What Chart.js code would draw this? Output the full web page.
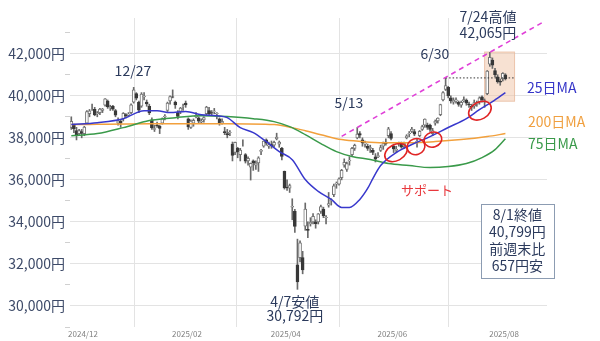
<!DOCTYPE html>
<html><head><meta charset="utf-8">
<script src="https://cdn.jsdelivr.net/npm/chart.js@4.4.1/dist/chart.umd.min.js"></script>
<style>html,body{margin:0;padding:0;background:#fff}#wrap{width:600px;height:341px;position:relative}</style>
</head><body><div id="wrap"><canvas id="c" width="600" height="341"></canvas></div>
<script>
// ---- data ----
const openP=[38500,38600,38350,38200,38300,
38200,38700,39150,39400,39350,39150,39200,39300,39550,39750,39450,39500,39300,38700,38800,38900,39100,39080,39200,39700,40100,
39700,39500,39950,39700,39500,38850,38400,38600,38550,38700,39000,39300,39750,39950,39700,39200,39250,39500,39650,
38900,38500,38700,39000,38950,38750,38850,39150,39300,39200,39250,39150,38900,38700,38300,38200,38250,37700,
37300,37500,37200,37700,37200,36900,36600,36900,36700,36800,37350,37600,37900,37600,37700,37650,37950,37700,37500,36400,
35650,35600,34700,34500,31960,32300,32300,33800,33650,33900,34000,34000,34000,34500,34600,34200,34800,35000,35300,35800,35800,
36100,36700,36500,36900,37200,37500,38000,38200,37900,37700,37600,37500,37400,37100,37100,37400,37600,37800,38100,38200,
37600,37400,37700,37700,37600,38000,38200,38300,38300,37800,38100,38400,38600,38600,38600,38200,38700,38800,39100,39800,40300,
40400,39900,39700,39750,39700,39550,39750,39800,39600,39500,39500,39600,39700,39950,39700,40100,41500,41700,41200,40900,40700,40800,
41000];
const highP=[39000,38650,38500,38400,38400,
38550,39300,39350,39600,39450,39250,39400,39400,39870,39800,39550,39550,39350,38950,38850,39200,39150,39200,39620,40400,40150,
39750,40150,40150,39800,39600,38950,38600,38750,38600,38950,39100,39700,40000,40280,39750,39300,39450,39600,39750,
38950,38850,38900,39200,39000,38900,39000,39500,39450,39300,39400,39200,38950,38900,38500,38400,38350,37800,
37800,37550,37500,37900,37250,37100,36800,36950,36900,37100,37450,37850,37950,37800,37850,37850,38220,37850,37550,36420,
36000,35800,35100,34600,33180,33100,32600,34900,34000,34200,34400,34100,34400,34800,34700,34300,35400,35100,35800,35900,36100,
36500,37000,36850,37100,37550,37700,38490,38300,38000,37850,37700,37650,37500,37250,37300,37650,37800,37950,38500,38300,
37700,37600,37800,37800,37800,38150,38300,38500,38400,37950,38350,38600,38900,38700,38650,38450,38850,38950,39600,40200,40850,
40450,40000,39900,39900,39750,39750,39950,39850,39700,39600,39800,39750,39950,40000,39850,41200,42065,41800,41300,41000,40800,41100,
41050];
const lowP=[38400,38250,37900,38100,38000,
38100,38650,39000,39300,39050,39000,39100,39200,39500,39400,39300,39300,39000,38600,38500,38800,38950,39000,39150,39650,39800,
39200,39450,39800,39500,39100,38400,38300,38500,38200,38650,38850,39250,39600,39900,39400,38900,39150,39300,39450,
38400,38450,38550,38950,38700,38700,38750,39100,39100,39050,39150,38900,38600,38650,38150,38000,38100,36900,
37200,37050,36900,37600,36800,36700,35990,36450,36500,36400,37200,37550,37650,37500,37500,37550,37900,37550,36950,35560,
35500,35400,34100,33500,30792,32100,31530,33600,33250,33800,33900,33700,33900,34400,34200,33900,34700,34800,35200,35600,35750,
36000,36600,36400,36700,37100,37400,37950,38000,37600,37550,37400,37300,37200,36850,37050,37350,37450,37650,38000,37900,
37300,37300,37600,37500,37500,37950,38050,38250,38100,37550,38050,38350,38500,38400,38300,38100,38600,38700,39050,39750,40250,
39900,39650,39600,39650,39500,39450,39700,39550,39450,39300,39400,39500,39600,39700,39450,40050,41400,41300,40900,40600,40500,40700,
40750];
const closeP=[38780,38440,38130,38350,38210,
38510,39250,39280,39400,39090,39160,39370,39370,39850,39470,39460,39360,39080,38810,38700,39160,39040,39130,39570,40280,39890,
39310,40080,39980,39610,39190,38470,38440,38570,38450,38900,39030,39650,39960,39930,39570,39020,39420,39510,39570,
38520,38800,38830,39070,38790,38800,38960,39460,39150,39170,39270,39160,38680,38780,38240,38140,38260,37160,
37790,37330,37420,37700,36890,37030,36790,36820,36790,37050,37400,37850,37750,37680,37610,37780,38030,37800,37120,35620,
35620,35730,34740,33780,31140,33010,31710,34610,33590,33980,34270,33920,34380,34730,34280,34220,34870,35040,35710,35840,36050,
36450,36830,36780,36930,37500,37640,38180,38130,37760,37750,37500,37530,37300,36990,37160,37530,37720,37720,38430,37970,
37470,37450,37750,37550,37740,38090,38210,38420,38170,37830,38310,38540,38890,38490,38400,38350,38790,38940,39580,40150,40490,
39990,39760,39790,39810,39590,39690,39820,39650,39570,39460,39680,39660,39900,39820,39770,41170,41830,41460,41000,40670,40650,41070,
40799];

// moving averages (read at sampled trading-day indices)
const ma25Idx=[0,10,20,28,33,38,44,50,56,60,65,70,75,80,85,90,95,100,104,107,111,114,116,119,125,131,138,145,152,157,162,167];
const ma25Val=[38630,38720,38910,39290,39290,39200,39250,39100,39050,38960,38485,38250,37820,37345,36960,36015,35450,35070,34690,34690,35070,35590,36060,36680,37300,37680,38060,38490,38910,39340,39720,40150];
const ma75Idx=[0,10,20,30,40,50,60,70,78,84,90,96,102,108,115,122,130,138,145,152,158,163,167];
const ma75Val=[38100,38200,38485,38820,38960,39055,39010,38910,38770,38530,38150,37725,37345,37110,36965,36775,36680,36585,36630,36775,37060,37440,37960];
const ma200Idx=[0,30,60,78,85,90,96,104,112,120,130,140,150,160,167];
const ma200Val=[38630,38675,38675,38630,38485,38340,38150,37915,37820,37770,37770,37820,37915,38060,38200];

// trend line (through 5/13 and 7/24 highs) and 6/30 high level
const trendIdx=[104,181];
const trendVal=[38070,43470];
const levelIdx=[144,170.5];
const levelVal=[40850,40850];

// axes
const xTickPos=[4.5,44.5,82.5,123.5,166.5];
const xTickLabels=['2024/12','2025/02','2025/04','2025/06','2025/08'];
const yMajor=[30000,32000,34000,36000,38000,40000,42000];
const yMinor=[29000,31000,33000,35000,37000,39000,41000,43000];

// annotations (data coordinates)
const texts=[
 {t:'12/27',i:23.7,v:41192,c:'#2b3a5c',a:'center'},
 {t:'5/13',i:106.8,v:39672,c:'#2b3a5c',a:'center'},
 {t:'6/30',i:139.9,v:42000,c:'#2b3a5c',a:'center'},
 {t:'7/24高値',i:160.3,v:43757,c:'#2b3a5c',a:'center'},
 {t:'42,065円',i:160.3,v:42997,c:'#2b3a5c',a:'center'},
 {t:'25日MA',i:175.3,v:40385,c:'#3535c8',a:'left'},
 {t:'200日MA',i:175.7,v:38770,c:'#f0a040',a:'left'},
 {t:'75日MA',i:175.7,v:37725,c:'#3a9a4a',a:'left'},
 {t:'サポート',i:136.8,v:35492,c:'#e8383d',a:'center',s:13},
 {t:'4/7安値',i:86.0,v:30220,c:'#2b3a5c',a:'center'},
 {t:'30,792円',i:86.0,v:29555,c:'#2b3a5c',a:'center'}
];
const ellipses=[
 {i:124.9,v:37297,rx:12,ry:8,rot:-0.5},
 {i:132.6,v:37582,rx:9,ry:8,rot:-0.3},
 {i:139.1,v:37915,rx:9,ry:7.5,rot:-0.3},
 {i:157.2,v:39292,rx:12,ry:8.5,rot:-0.5}
];
const shade={i0:158.8,i1:170.7,v0:39720,v1:42100};
const infoBox={i0:157.6,i1:185.7,v0:34828,v1:31312,ic:171.6,
  lines:['8/1終値','40,799円','前週末比','657円安'],lv:[34352,33545,32737,31930]};

const FONT="'Noto Sans CJK JP','Noto Sans',sans-serif";

const idx=closeP.map((_,i)=>i);
const toXY=(is,vs)=>is.map((x,k)=>({x:x,y:vs[k]}));

const annotPlugin={
 id:'annot',
 beforeDatasetsDraw(chart){
  const {ctx,scales:{x,y}}=chart;
  ctx.save();
  const x0=x.getPixelForValue(shade.i0),x1=x.getPixelForValue(shade.i1);
  const y0=y.getPixelForValue(shade.v1),y1=y.getPixelForValue(shade.v0);
  ctx.fillStyle='rgba(240,195,165,0.5)';
  ctx.fillRect(x0,y0,x1-x0,y1-y0);
  ctx.strokeStyle='rgba(230,180,150,0.6)';ctx.lineWidth=1;
  ctx.strokeRect(x0+0.5,y0+0.5,x1-x0-1,y1-y0-1);
  ctx.restore();
 },
 afterDatasetsDraw(chart){
  const {ctx,scales:{x,y}}=chart;
  ctx.save();
  ctx.strokeStyle='#e02424';ctx.lineWidth=1.6;
  ellipses.forEach(e=>{
   ctx.beginPath();
   ctx.ellipse(x.getPixelForValue(e.i),y.getPixelForValue(e.v),e.rx,e.ry,e.rot,0,Math.PI*2);
   ctx.stroke();
  });
  ctx.textBaseline='middle';
  texts.forEach(t=>{
   ctx.font=(t.s||14)+'px '+FONT;
   ctx.fillStyle=t.c;ctx.textAlign=t.a;
   ctx.fillText(t.t,x.getPixelForValue(t.i),y.getPixelForValue(t.v));
  });
  const bx0=x.getPixelForValue(infoBox.i0),bx1=x.getPixelForValue(infoBox.i1);
  const by0=y.getPixelForValue(infoBox.v0),by1=y.getPixelForValue(infoBox.v1);
  ctx.fillStyle='#ffffff';ctx.fillRect(bx0,by0,bx1-bx0,by1-by0);
  ctx.strokeStyle='#8c9cb2';ctx.lineWidth=1;
  ctx.strokeRect(Math.round(bx0)+0.5,Math.round(by0)+0.5,Math.round(bx1-bx0),Math.round(by1-by0));
  ctx.font='14px '+FONT;ctx.fillStyle='#2b3a5c';ctx.textAlign='center';
  infoBox.lines.forEach((l,k)=>ctx.fillText(l,x.getPixelForValue(infoBox.ic),y.getPixelForValue(infoBox.lv[k])));
  ctx.restore();
 }
};

new Chart(document.getElementById('c'),{
 type:'bar',
 data:{datasets:[
  {type:'line',label:'trend',data:toXY(trendIdx,trendVal),borderColor:'#e040d8',borderWidth:1.6,borderDash:[5,4],pointRadius:0,order:1},
  {type:'line',label:'level',data:toXY(levelIdx,levelVal),borderColor:'#333',borderWidth:1,borderDash:[1.5,2],pointRadius:0,order:1},
  {type:'line',label:'25MA',data:toXY(ma25Idx,ma25Val),borderColor:'#3838cc',borderWidth:1.5,pointRadius:0,cubicInterpolationMode:'monotone',order:2},
  {type:'line',label:'75MA',data:toXY(ma75Idx,ma75Val),borderColor:'#3a9a4a',borderWidth:1.5,pointRadius:0,cubicInterpolationMode:'monotone',order:3},
  {type:'line',label:'200MA',data:toXY(ma200Idx,ma200Val),borderColor:'#f2a03c',borderWidth:1.5,pointRadius:0,cubicInterpolationMode:'monotone',order:3},
  {label:'body',data:idx.map(i=>({x:i,y:[openP[i],closeP[i]]})),
   backgroundColor:idx.map(i=>closeP[i]>=openP[i]?'#ffffff':'#383838'),
   borderColor:idx.map(i=>closeP[i]>=openP[i]?'#777777':'#383838'),
   borderWidth:1,borderSkipped:false,barThickness:3,grouped:false,order:4},
  {label:'wick',data:idx.map(i=>({x:i,y:[lowP[i],highP[i]]})),
   backgroundColor:'#6a6a6a',borderWidth:0,barThickness:1,grouped:false,order:5}
 ]},
 options:{
  responsive:false,animation:false,devicePixelRatio:1,
  layout:{padding:{left:0,right:53,top:18,bottom:0}},
  plugins:{legend:{display:false},tooltip:{enabled:false}},
  scales:{
   x:{type:'linear',min:-0.5,max:183,offset:false,
    afterBuildTicks:s=>{s.ticks=xTickPos.map(v=>({value:v}));},
    afterFit:s=>{s.height=14;},
    ticks:{autoSkip:false,maxRotation:0,padding:2,color:'#808080',font:{size:8,family:FONT},
     callback:(v,i)=>xTickLabels[i]},
    grid:{color:'#e3e3e3',drawTicks:false},border:{display:false}},
   y:{min:29000,max:43700,
    afterBuildTicks:s=>{s.ticks=yMinor.concat(yMajor).sort((a,b)=>a-b).map(v=>({value:v}));},
    afterFit:s=>{s.width=70;},
    ticks:{padding:0,color:'#3d4a68',font:{size:14,family:FONT},
     callback:v=>yMajor.includes(v)?v.toLocaleString('en-US')+'円':''},
    grid:{color:c=>(c.tick&&yMajor.includes(c.tick.value))?'#e3e3e3':'rgba(0,0,0,0)',
     tickColor:c=>(c.tick&&yMajor.includes(c.tick.value))?'rgba(0,0,0,0)':'#d0d0d0',
     tickLength:5,drawTicks:true},
    border:{display:false}}
  }
 },
 plugins:[annotPlugin]
});
</script></body></html>
